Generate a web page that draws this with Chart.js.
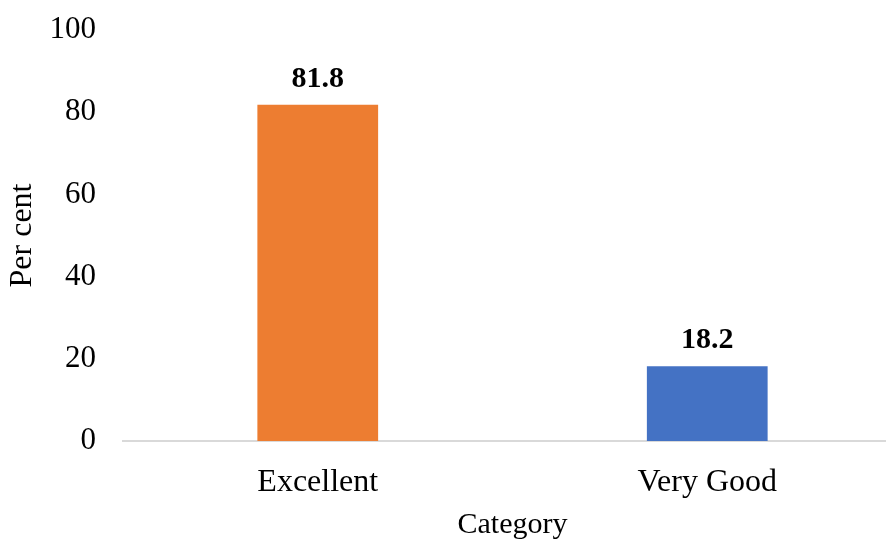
<!DOCTYPE html>
<html>
<head>
<meta charset="utf-8">
<script src="https://cdn.jsdelivr.net/npm/chart.js@4"></script>
<style>
  html, body { margin: 0; padding: 0; background: #fff; overflow: hidden; }
  /* plot runs a little past the right edge, like the original */
  #wrap { width: 886px; height: 539px; overflow: hidden; }
</style>
</head>
<body>
<div id="wrap"><canvas id="chart" width="902" height="539"></canvas></div>
<script>
const categories = ["Excellent", "Very Good"];
const perCent = [81.8, 18.2];
const barColors = ["#ED7D31", "#4472C4"];
const yTicks = [0, 20, 40, 60, 80, 100];

const serif = "'Liberation Serif', 'Times New Roman', serif";

// draws the value above each bar
const valueLabels = {
  id: "valueLabels",
  afterDatasetsDraw(chart) {
    const ctx = chart.ctx;
    const meta = chart.getDatasetMeta(0);
    ctx.save();
    ctx.font = "bold 30px " + serif;
    ctx.fillStyle = "#000";
    ctx.textAlign = "center";
    ctx.textBaseline = "alphabetic";
    meta.data.forEach((bar, i) => {
      ctx.fillText(perCent[i].toFixed(1), bar.x, bar.y - 18);
    });
    ctx.restore();
  }
};

new Chart(document.getElementById("chart"), {
  type: "bar",
  data: {
    labels: categories,
    datasets: [
      {
        data: perCent,
        backgroundColor: barColors,
        borderWidth: 0,
        categoryPercentage: 1,
        barPercentage: 0.31,
      },
    ],
  },
  options: {
    responsive: false,
    animation: false,
    layout: { padding: { left: 0, right: 0, top: 30, bottom: 0 } },
    plugins: {
      legend: { display: false },
      tooltip: { enabled: false },
    },
    scales: {
      x: {
        afterFit: (axis) => {
          axis.height = 98;
          axis.paddingLeft = 0;
          axis.paddingRight = 0;
        },
        grid: { display: false, drawTicks: false },
        border: { display: true, color: "#D9D9D9", width: 2 },
        ticks: { color: "#000", font: { family: serif, size: 32 }, padding: 22 },
        title: {
          display: true,
          text: "Category",
          color: "#000",
          font: { family: serif, size: 30 },
          padding: { top: 6, bottom: -4 },
        },
      },
      y: {
        min: 0,
        max: 100,
        afterBuildTicks: (axis) => {
          axis.ticks = yTicks.map((v) => ({ value: v }));
        },
        afterFit: (axis) => {
          axis.width = 123;
          axis.paddingTop = 0;
          axis.paddingBottom = 0;
        },
        grid: { display: false, drawTicks: false },
        border: { display: false },
        ticks: { color: "#000", font: { family: serif, size: 31 }, padding: 27 },
        title: {
          display: true,
          text: "Per cent",
          color: "#000",
          font: { family: serif, size: 32 },
          padding: { top: 3, bottom: 8 },
        },
      },
    },
  },
  plugins: [valueLabels],
});
</script>
</body>
</html>
